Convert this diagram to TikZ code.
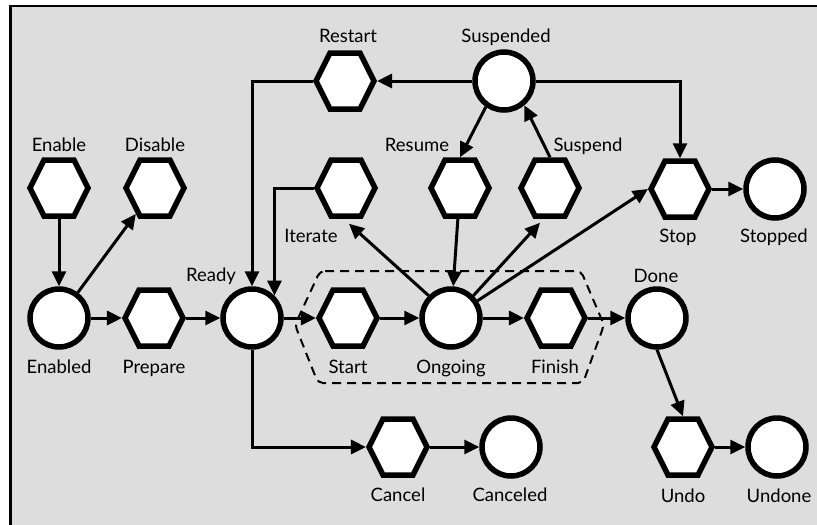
\documentclass[tikz,border=0pt]{standalone}
\usepackage{fontspec}
\setmainfont{Lato}
\usetikzlibrary{arrows.meta,shapes.symbols,calc}
\definecolor{bggray}{RGB}{221,221,221}
\begin{document}
\begin{tikzpicture}[x=1pt,y=-1pt,
  state/.style={circle,draw,line width=5.5pt,fill=white,minimum size=58pt,inner sep=0pt},
  trans/.style={signal,signal to=east and west,signal from=nowhere,signal pointer angle=127,draw,line width=5.5pt,fill=white,minimum width=58pt,minimum height=56pt,inner sep=0pt},
  lbl/.style={font=\fontsize{18.5}{22}\selectfont,anchor=base,inner sep=0pt},
  conn/.style={line width=3pt,-{Triangle[length=15pt,width=14pt]}},
  grp/.style={draw,line width=2pt,dash pattern=on 9pt off 6pt,rounded corners=5pt}
]
\useasboundingbox (0,0) rectangle (817,525);
\clip (0,0) rectangle (817,525);
\draw[line width=2.3pt,fill=bggray] (10.5,6) rectangle (830,540);

% dashed group
\draw[grp] (320,271) -- (581,271) -- (604,325) -- (583,383) -- (318,383) -- (295,325) -- cycle;

% nodes
\node[trans]  (Enable)    at (59,188)  {};
\node[trans]  (Disable)   at (155,188) {};
\node[state]  (Enabled)   at (59,318)  {};
\node[trans]  (Prepare)   at (154,318) {};
\node[state]  (Ready)     at (252,318) {};
\node[trans]  (Start)     at (348,318) {};
\node[state]  (Ongoing)   at (451,318) {};
\node[trans]  (Finish)    at (556,318) {};
\node[state]  (Done)      at (657,318) {};
\node[trans]  (Iterate)   at (346,188) {};
\node[trans]  (Resume)    at (460,188) {};
\node[trans]  (Suspend)   at (550,188) {};
\node[trans]  (Restart)   at (345,81)  {};
\node[state]  (Suspended) at (504,81)  {};
\node[trans]  (Stop)      at (680,189) {};
\node[state]  (Stopped)   at (775,189) {};
\node[trans]  (Cancel)    at (398,447) {};
\node[state]  (Canceled)  at (511,447) {};
\node[trans]  (Undo)      at (683,447) {};
\node[state]  (Undone)    at (777,447) {};

% labels
\node[lbl] (lEnable)    at (59,151)  {Enable};
\node[lbl] (lDisable)   at (155,151) {Disable};
\node[lbl] (lRestart)   at (348,42)  {Restart};
\node[lbl] (lSuspended) at (506,42)  {Suspended};
\node[lbl] (lResume)    at (417,151) {Resume};
\node[lbl] (lSuspend)   at (588,151) {Suspend};
\node[lbl] (lIterate)   at (311,242) {Iterate};
\node[lbl] (lReady)     at (211,281) {Ready};
\node[lbl] (lEnabled)   at (59,373)  {Enabled};
\node[lbl] (lPrepare)   at (154,373) {Prepare};
\node[lbl] (lStart)     at (348,373) {Start};
\node[lbl] (lOngoing)   at (451,373) {Ongoing};
\node[lbl] (lFinish)    at (555,373) {Finish};
\node[lbl] (lDone)      at (656,282) {Done};
\node[lbl] (lStop)      at (678,242) {Stop};
\node[lbl] (lStopped)   at (774,242) {Stopped};
\node[lbl] (lCancel)    at (398,501) {Cancel};
\node[lbl] (lCanceled)  at (510,501) {Canceled};
\node[lbl] (lUndo)      at (683,502) {Undo};
\node[lbl] (lUndone)    at (779,502) {Undone};

% connectors
\draw[conn] (Enable) -- (Enabled);
\draw[conn] (Enabled) -- (Disable);
\draw[conn] (Enabled) -- (Prepare);
\draw[conn] (Prepare) -- (Ready);
\draw[conn] (Ready) -- (Start);
\draw[conn] (Start) -- (Ongoing);
\draw[conn] (Ongoing) -- (Finish);
\draw[conn] (Finish) -- (Done);
\draw[conn] (Done.south) -- (Undo.north);
\draw[conn] (Undo) -- (Undone);
\draw[conn] (Ready.south) |- (Cancel.west);
\draw[conn] (Cancel) -- (Canceled);
\draw[conn] (Stop) -- (Stopped);
\draw[conn] (Suspended.west) -- (Restart.east);
\draw[conn] (Restart.west) -| (Ready.north);
\draw[conn] (Iterate.west) -| (Ready.45);
\draw[conn] (Ongoing.135) -- ($(Iterate.south)+(3,5)$);
\draw[conn] (Suspended.235) -- (Resume.north);
\draw[conn] (Resume) -- (Ongoing);
\draw[conn] (Ongoing.45) -- ($(Suspend.south)+(-10,4)$);
\draw[conn] (Suspend.north) -- (Suspended.-50);
\draw[conn] (Ongoing.33) -- (Stop.west);
\draw[conn] (Suspended.east) -| (Stop.north);
\end{tikzpicture}
\end{document}
